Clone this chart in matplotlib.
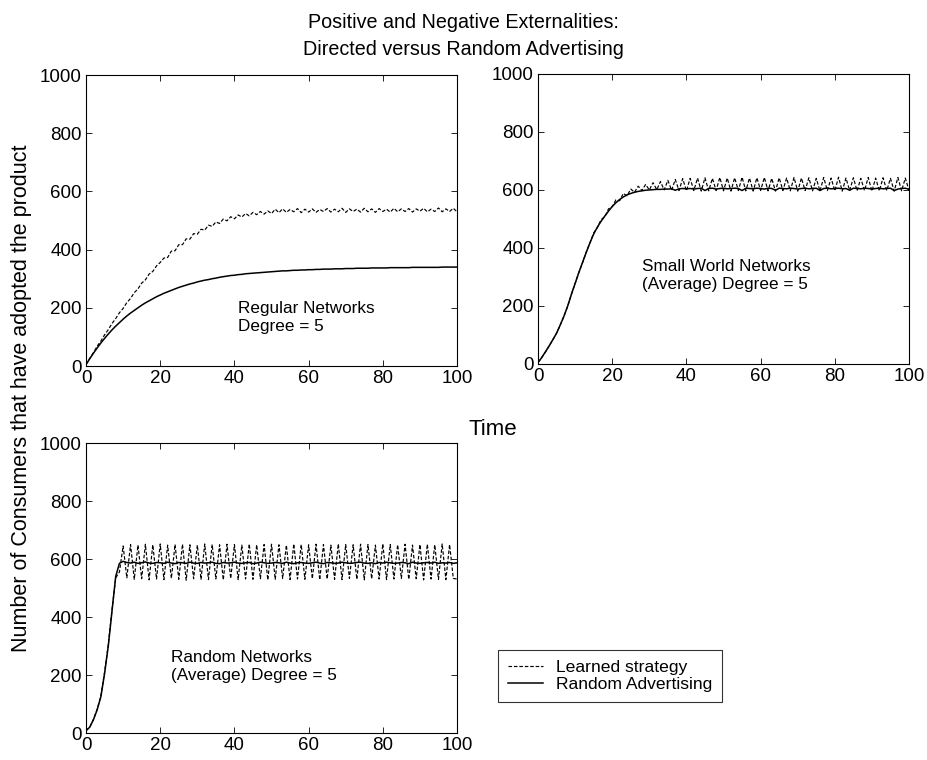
import numpy as np
import matplotlib
matplotlib.use("Agg")
import matplotlib.pyplot as plt

plt.rcParams["font.family"] = ["Liberation Sans", "DejaVu Sans"]

# time steps 0..100
time = np.arange(0, 101)

# Regular networks, degree 5
reg_learned = [
    5, 26, 46, 68, 86, 107, 125, 146, 163, 183,
    198, 218, 232, 252, 265, 285, 296, 316, 325, 344,
    356, 371, 373, 395, 396, 417, 417, 437, 436, 455,
    453, 470, 467, 484, 480, 495, 490, 505, 499, 513,
    506, 519, 512, 524, 516, 528, 520, 531, 522, 533,
    524, 539, 527, 540, 528, 538, 530, 541, 527, 539,
    529, 540, 528, 538, 531, 541, 529, 539, 530, 542,
    528, 540, 531, 539, 529, 542, 530, 540, 528, 541,
    531, 539, 529, 542, 530, 540, 531, 541, 529, 540,
    532, 542, 530, 539, 531, 543, 530, 540, 531, 542, 530,
]
reg_random = [
    5, 25, 44, 62, 79, 95, 110, 124, 137, 149,
    161, 172, 182, 191, 200, 209, 217, 224, 231, 238,
    244, 250, 255, 260, 265, 270, 274, 278, 282, 285,
    289, 292, 295, 297, 300, 302, 305, 307, 309, 311,
    312, 314, 315, 317, 318, 319, 320, 321, 322, 323,
    324, 325, 326, 327, 327, 328, 329, 329, 330, 330,
    331, 331, 332, 332, 333, 333, 333, 334, 334, 334,
    335, 335, 335, 336, 336, 336, 336, 337, 337, 337,
    337, 337, 338, 338, 338, 338, 338, 338, 339, 339,
    339, 339, 339, 339, 339, 339, 340, 340, 340, 340, 340,
]

# Small world networks, average degree 5
sw_learned = [
    5, 23, 41, 63, 83, 107, 134, 166, 199, 241,
    277, 316, 349, 386, 417, 452, 470, 498, 507, 535,
    542, 566, 563, 588, 580, 603, 592, 613, 598, 619,
    600, 625, 601, 629, 600, 633, 599, 636, 598, 639,
    597, 640, 598, 641, 596, 642, 597, 640, 598, 643,
    597, 641, 596, 642, 598, 644, 597, 641, 596, 642,
    598, 643, 597, 640, 596, 642, 598, 641, 597, 643,
    596, 641, 598, 642, 597, 640, 596, 643, 598, 641,
    597, 644, 596, 641, 598, 642, 597, 640, 598, 643,
    596, 641, 597, 642, 598, 640, 596, 643, 597, 641, 598,
]
sw_random = [
    5, 22, 42, 62, 84, 106, 135, 165, 200, 240,
    278, 315, 350, 385, 418, 448, 472, 492, 510, 527,
    543, 556, 567, 576, 583, 588, 592, 595, 597, 599,
    600, 601, 602, 602, 603, 603, 604, 599, 604, 605,
    604, 605, 603, 605, 606, 598, 605, 606, 603, 605,
    606, 604, 605, 606, 605, 598, 606, 605, 604, 606,
    605, 603, 606, 605, 599, 606, 605, 604, 606, 605,
    603, 605, 606, 604, 605, 606, 598, 605, 606, 604,
    605, 606, 604, 605, 599, 606, 605, 604, 606, 605,
    603, 605, 606, 604, 605, 606, 598, 603, 605, 606, 602,
]

# Random networks, average degree 5
rn_learned = [
    8, 21, 47, 82, 128, 210, 305, 425, 535, 555,
    645, 535, 650, 530, 648, 532, 651, 528, 649, 531,
    652, 529, 648, 533, 650, 530, 651, 527, 649, 532,
    648, 530, 652, 529, 650, 531, 649, 528, 651, 533,
    650, 529, 648, 531, 652, 530, 649, 532, 650, 528,
    651, 530, 649, 533, 648, 529, 652, 531, 650, 530,
    649, 532, 651, 528, 650, 531, 648, 530, 652, 529,
    650, 533, 649, 530, 651, 528, 650, 532, 648, 531,
    652, 529, 650, 531, 649, 533, 651, 530, 648, 532,
    650, 528, 651, 531, 649, 530, 652, 529, 650, 533, 531,
]
rn_random = [
    8, 20, 46, 80, 125, 205, 300, 420, 540, 585,
    592, 588, 586, 589, 585, 587, 590, 586, 585, 588,
    587, 585, 589, 586, 584, 588, 587, 585, 589, 586,
    585, 588, 586, 587, 589, 585, 584, 588, 586, 587,
    589, 586, 585, 587, 588, 584, 586, 589, 587, 585,
    586, 588, 587, 585, 589, 586, 584, 587, 588, 586,
    585, 587, 589, 586, 584, 588, 587, 585, 586, 589,
    587, 585, 586, 588, 589, 586, 585, 587, 584, 588,
    586, 589, 587, 585, 586, 588, 587, 584, 589, 586,
    585, 587, 588, 586, 589, 585, 587, 586, 588, 585, 587,
]

labels = ["Regular Networks\nDegree = 5",
          "Small World Networks\n(Average) Degree = 5",
          "Random Networks\n(Average) Degree = 5"]

fig = plt.figure(figsize=(9.27, 7.6), dpi=100)

# axes boxes in figure fraction (left, bottom, width, height)
ax_tl = fig.add_axes([0.0928, 0.5184, 0.4002, 0.3829])
ax_tr = fig.add_axes([0.5804, 0.5211, 0.4002, 0.3816])
ax_bl = fig.add_axes([0.0928, 0.0355, 0.4002, 0.3816])

panels = [
    (ax_tl, reg_learned, reg_random, labels[0], (41, 167)),
    (ax_tr, sw_learned, sw_random, labels[1], (28, 305)),
    (ax_bl, rn_learned, rn_random, labels[2], (23, 230)),
]

for ax, learned, rand, txt, pos in panels:
    l1, = ax.plot(time, learned, color="black", lw=0.85, linestyle=(0, (3, 1.6)))
    l2, = ax.plot(time, rand, color="black", lw=1.1)
    ax.set_xlim(0, 100)
    ax.set_ylim(0, 1000)
    ax.set_xticks(range(0, 101, 20))
    ax.set_yticks(range(0, 1001, 200))
    ax.tick_params(direction="in", top=True, right=True, length=4, width=0.6,
                   labelsize=13.5, pad=3)
    for s in ax.spines.values():
        s.set_linewidth(0.8)
    ax.text(pos[0], pos[1], txt, fontsize=12.3, ha="left", va="center",
            linespacing=1.25)

fig.text(0.5, 0.9632, "Positive and Negative Externalities:", ha="center",
         va="baseline", fontsize=14.2)
fig.text(0.5, 0.9276, "Directed versus Random Advertising", ha="center",
         va="baseline", fontsize=14.2)
fig.text(0.5049, 0.4276, "Time", ha="left", va="baseline", fontsize=16)
fig.text(0.0237, 0.476, "Number of Consumers that have adopted the product",
         rotation=90, ha="center", va="center", fontsize=15.5)

leg = fig.legend([l1, l2], ["Learned strategy", "Random Advertising"],
                 loc="upper left", bbox_to_anchor=(0.5372, 0.1447),
                 fontsize=12.6, frameon=True, fancybox=False,
                 handlelength=2.0, handletextpad=0.75, labelspacing=0.1,
                 borderpad=0.55, borderaxespad=0)
leg.get_frame().set_edgecolor("black")
leg.get_frame().set_linewidth(0.8)

fig.savefig("out.png", dpi=100)
